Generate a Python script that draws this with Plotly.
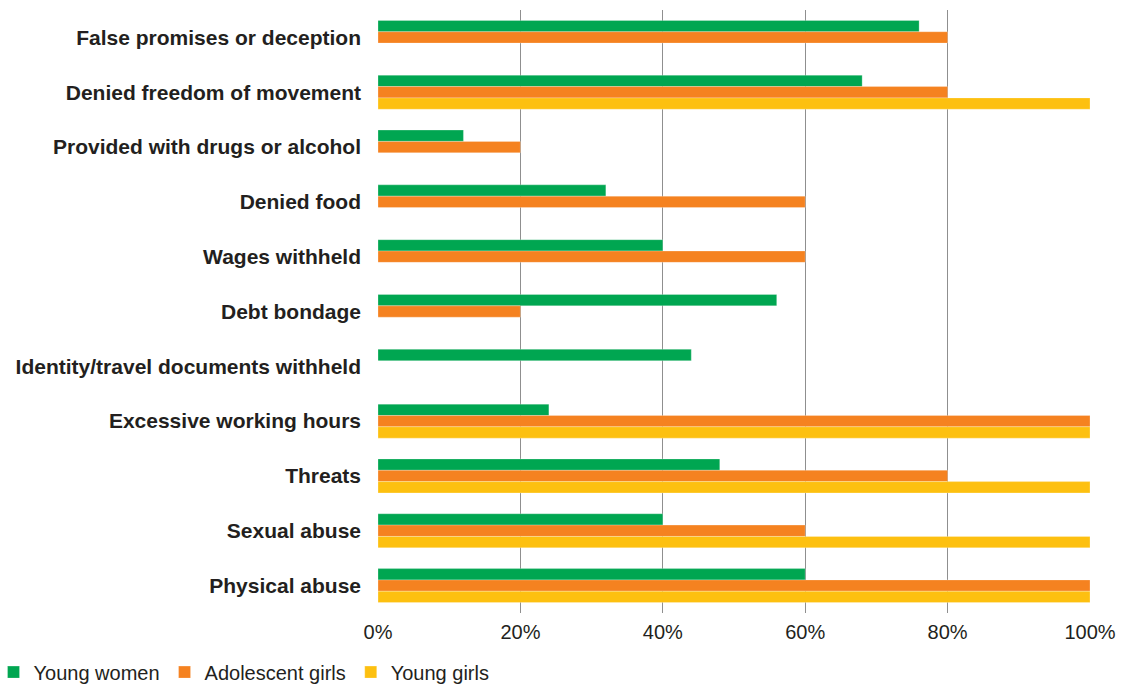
import plotly.graph_objects as go

# Forms of coercion reported, share of respondents in each group
categories = [
    "False promises or deception",
    "Denied freedom of movement",
    "Provided with drugs or alcohol",
    "Denied food",
    "Wages withheld",
    "Debt bondage",
    "Identity/travel documents withheld",
    "Excessive working hours",
    "Threats",
    "Sexual abuse",
    "Physical abuse",
]
young_women = [76, 68, 12, 32, 40, 56, 44, 24, 48, 40, 60]
adolescent_girls = [80, 80, 20, 60, 60, 20, 0, 100, 80, 60, 100]
young_girls = [0, 100, 0, 0, 0, 0, 0, 100, 100, 100, 100]

series = [
    ("Young women", young_women, "#00A651"),
    ("Adolescent girls", adolescent_girls, "#F58220"),
    ("Young girls", young_girls, "#FDC010"),
]

x_ticks = [0, 20, 40, 60, 80, 100]
x_tick_labels = ["0%", "20%", "40%", "60%", "80%", "100%"]

fig = go.Figure()
for name, vals, color in series:
    fig.add_trace(go.Bar(
        y=categories,
        x=vals,
        name=name,
        orientation="h",
        marker=dict(color=color, line=dict(color="rgba(255,255,255,0.5)", width=0.5)),
    ))

fig.update_layout(
    width=1127,
    height=686,
    margin=dict(l=378, r=37, t=10, b=73, autoexpand=False),
    paper_bgcolor="white",
    plot_bgcolor="white",
    barmode="group",
    bargap=0.38,
    bargroupgap=0,
    font=dict(family="Liberation Sans, Arial, sans-serif", color="#231F20"),
    legend=dict(
        orientation="h",
        x=-0.54,
        y=-0.098,
        xanchor="left",
        yanchor="middle",
        font=dict(size=20, color="#231F20"),
        itemwidth=30,
        traceorder="normal",
        bgcolor="rgba(0,0,0,0)",
    ),
    xaxis=dict(
        range=[0, 100],
        tickvals=x_ticks,
        ticktext=x_tick_labels,
        showgrid=True,
        gridcolor="#8f8f8f",
        gridwidth=1,
        zeroline=False,
        showline=False,
        ticks="",
        ticklabelstandoff=5,
        tickfont=dict(size=20, color="#231F20"),
        fixedrange=True,
    ),
    yaxis=dict(
        autorange="reversed",
        showgrid=False,
        zeroline=False,
        showline=False,
        ticks="",
        ticklabelstandoff=16,
        tickfont=dict(size=21, color="#231F20", family="Liberation Sans, Arial, sans-serif", weight="bold"),
    ),
)

fig.write_html("out.html")
